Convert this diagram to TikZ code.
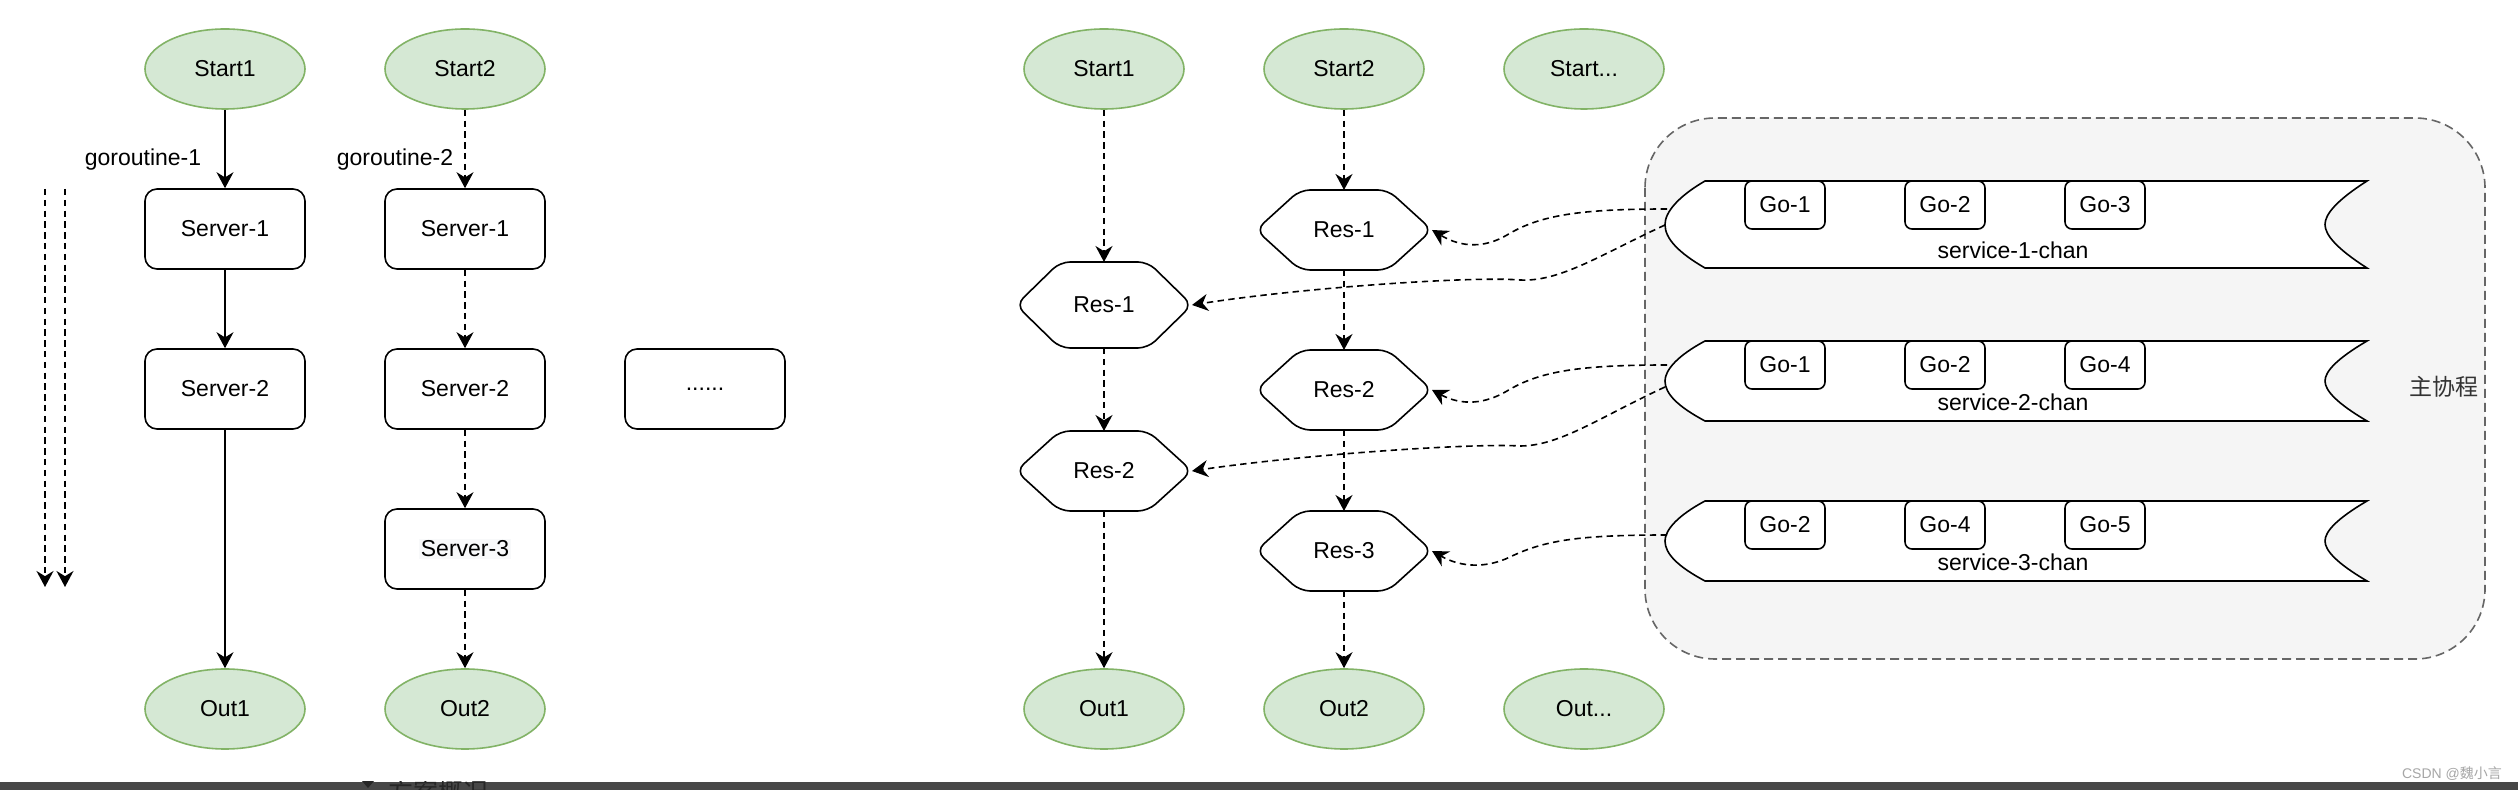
\documentclass[tikz,border=0pt]{standalone}
\usepackage{fontspec}
\setmainfont{Liberation Sans}
\newfontfamily\cjk{Noto Sans CJK SC}
\usetikzlibrary{arrows.meta,calc,shapes.geometric}
\definecolor{gfill}{HTML}{D5E8D4}
\definecolor{gdraw}{HTML}{82B366}
\definecolor{cfill}{HTML}{F5F5F5}
\definecolor{cdraw}{HTML}{666666}
\definecolor{barc}{HTML}{474747}
\definecolor{txtgray}{HTML}{333333}
\definecolor{hlbg}{HTML}{F8F9FA}
\newcommand{\hexnode}[6]{%
  \draw[hexs] ({#2-#4/2},#3) -- ({#2-#4/2+44},{#3-#5/2}) -- ({#2+#4/2-44},{#3-#5/2}) -- ({#2+#4/2},#3) -- ({#2+#4/2-44},{#3+#5/2}) -- ({#2-#4/2+44},{#3+#5/2}) -- cycle;
  \node[hexn, minimum width={#4*0.5pt}, minimum height={#5*0.5pt}] (#1) at (#2,#3) {#6};}
\newcommand{\chanshape}[2]{%
  \draw[line width=0.8pt, fill=white] (1705,#1) -- (2367,#1)
    .. controls (2337,{#1+0.22*(#2-#1)}) and (2325,{#1+0.38*(#2-#1)}) .. (2325,{(#1+#2)/2})
    .. controls (2325,{#1+0.62*(#2-#1)}) and (2337,{#1+0.78*(#2-#1)}) .. (2367,#2)
    -- (1705,#2)
    .. controls (1678,{#1+0.82*(#2-#1)}) and (1665,{#1+0.66*(#2-#1)}) .. (1665,{(#1+#2)/2})
    .. controls (1665,{#1+0.36*(#2-#1)}) and (1678,{#1+0.18*(#2-#1)}) .. (1705,#1) -- cycle;}
\begin{document}
\begin{tikzpicture}[x=0.5pt,y=-0.5pt,
  every node/.style={font=\fontsize{11.5}{13.8}\selectfont},
  term/.style={ellipse, draw=gdraw, fill=gfill, line width=0.8pt, minimum width=80pt, minimum height=40pt, inner sep=0pt},
  box/.style={rectangle, rounded corners=6pt, draw=black, line width=0.8pt, minimum width=80pt, minimum height=40pt, inner sep=0pt, fill=white},
  gobox/.style={rectangle, rounded corners=3.5pt, draw=black, line width=0.8pt, minimum width=40pt, minimum height=24pt, inner sep=0pt, fill=white},
  hexn/.style={rectangle, inner sep=0pt, outer sep=0pt},
  hexs/.style={draw=black, line width=0.8pt, fill=white, rounded corners=5pt},
  arr/.style={-{Stealth[length=8pt,width=8.5pt,inset=2.6pt]}, line width=0.8pt},
  dsh/.style={dash pattern=on 3.2pt off 2.2pt},
  lbl/.style={inner sep=0pt},
]
\useasboundingbox (0,0) rectangle (2518,790);
\fill[white] (0,0) rectangle (2518,790);

% ---------- left part ----------
\node[term] (s1L) at (225,69) {Start1};
\node[term] (s2L) at (465,69) {Start2};
\node[box] (sv1L) at (225,229) {Server-1};
\node[box] (sv2L) at (225,389) {Server-2};
\node[box] (sv1R) at (465,229) {Server-1};
\node[box] (sv2R) at (465,389) {Server-2};
\node[box] (sv3R) at (465,549) {};
\node[fill=hlbg, inner sep=1pt] (sv3Rt) at (sv3R) {Server-3};
\node[box] (dots) at (705,389) {......};
\node[term] (o1L) at (225,709) {Out1};
\node[term] (o2L) at (465,709) {Out2};
\node[lbl] (g1) at (143,160) {goroutine-1};
\node[lbl] (g2) at (395,160) {goroutine-2};

\draw[arr] (s1L) -- (sv1L);
\draw[arr] (sv1L) -- (sv2L);
\draw[arr] (sv2L) -- (o1L);
\draw[arr,dsh] (s2L) -- (sv1R);
\draw[arr,dsh] (sv1R) -- (sv2R);
\draw[arr,dsh] (sv2R) -- (sv3R);
\draw[arr,dsh] (sv3R) -- (o2L);

\coordinate (la1) at (45,189);
\coordinate (la2) at (45,587);
\coordinate (lb1) at (65,189);
\coordinate (lb2) at (65,587);
\draw[arr,dsh] (la1) -- (la2);
\draw[arr,dsh] (lb1) -- (lb2);

% ---------- right part ----------
\draw[cdraw, fill=cfill, line width=0.8pt, dash pattern=on 4.5pt off 2.5pt, rounded corners=35pt] (1645,118) rectangle (2485,659);

\chanshape{181}{268}
\chanshape{341}{421}
\chanshape{501}{581}

\node[gobox] (g11) at (1785,205) {Go-1};
\node[gobox] (g12) at (1945,205) {Go-2};
\node[gobox] (g13) at (2105,205) {Go-3};
\node[gobox] (g21) at (1785,365) {Go-1};
\node[gobox] (g22) at (1945,365) {Go-2};
\node[gobox] (g23) at (2105,365) {Go-4};
\node[gobox] (g31) at (1785,525) {Go-2};
\node[gobox] (g32) at (1945,525) {Go-4};
\node[gobox] (g33) at (2105,525) {Go-5};
\node[lbl] (ch1) at (2013,250) {service-1-chan};
\node[lbl] (ch2) at (2013,402) {service-2-chan};
\node[lbl] (ch3) at (2013,562) {service-3-chan};
\node[lbl, text=txtgray] (main) at (2444,387) {\cjk 主协程};

\node[term] (s1R) at (1104,69) {Start1};
\node[term] (s2R) at (1344,69) {Start2};
\node[term] (s3R) at (1584,69) {Start...};
\node[term] (o1R) at (1104,709) {Out1};
\node[term] (o2R) at (1344,709) {Out2};
\node[term] (o3R) at (1584,709) {Out...};

\hexnode{r1a}{1104}{305}{176}{86}{Res-1}
\hexnode{r2a}{1104}{471}{176}{80}{Res-2}
\hexnode{r1b}{1344}{230}{176}{80}{Res-1}
\hexnode{r2b}{1344}{390}{176}{80}{Res-2}
\hexnode{r3b}{1344}{551}{176}{80}{Res-3}

\draw[arr,dsh] (s1R) -- (r1a);
\draw[arr,dsh] (r1a) -- (r2a);
\draw[arr,dsh] (r2a) -- (o1R);
\draw[arr,dsh] (s2R) -- (r1b);
\draw[arr,dsh] (r1b) -- (r2b);
\draw[arr,dsh] (r2b) -- (r3b);
\draw[arr,dsh] (r3b) -- (o2R);

\coordinate (c1u) at (1667,209);
\coordinate (c1l) at (1665,225);
\coordinate (c2u) at (1667,365);
\coordinate (c2l) at (1665,387);
\coordinate (c3u) at (1667,535);
\draw[arr,dsh] (c1u) .. controls (1580,209) and (1540,215) .. (1507,235) .. controls (1485,248) and (1462,248) .. (r1b.east);
\draw[arr,dsh] (c2u) .. controls (1580,365) and (1540,371) .. (1507,391) .. controls (1485,404) and (1462,406) .. (r2b.east);
\draw[arr,dsh] (c3u) .. controls (1580,535) and (1545,540) .. (1510,557) .. controls (1487,568) and (1462,568) .. (r3b.east);
\draw[arr,dsh] (c1l) .. controls (1600,255) and (1560,282) .. (1520,280) .. controls (1470,276) and (1300,288) .. (r1a.east);
\draw[arr,dsh] (c2l) .. controls (1600,417) and (1560,446) .. (1520,446) .. controls (1470,443) and (1300,455) .. (r2a.east);

% ---------- page bottom ----------
\node[lbl, text=gray!70, font=\fontsize{7}{8}\selectfont] (wm) at (2452,774) {CSDN @{\cjk 魏小言}};
\fill[barc] (0,782) rectangle (2518,790);
\begin{scope}
\clip (0,782) rectangle (2518,790);
\fill[black!85] (362,781) -- (374,781) -- (368,788) -- cycle;
\node[lbl, anchor=north, text=black!85, font=\fontsize{12.5}{14}\selectfont] (bt) at (438,780) {\cjk 方案概况};
\end{scope}
\end{tikzpicture}
\end{document}
